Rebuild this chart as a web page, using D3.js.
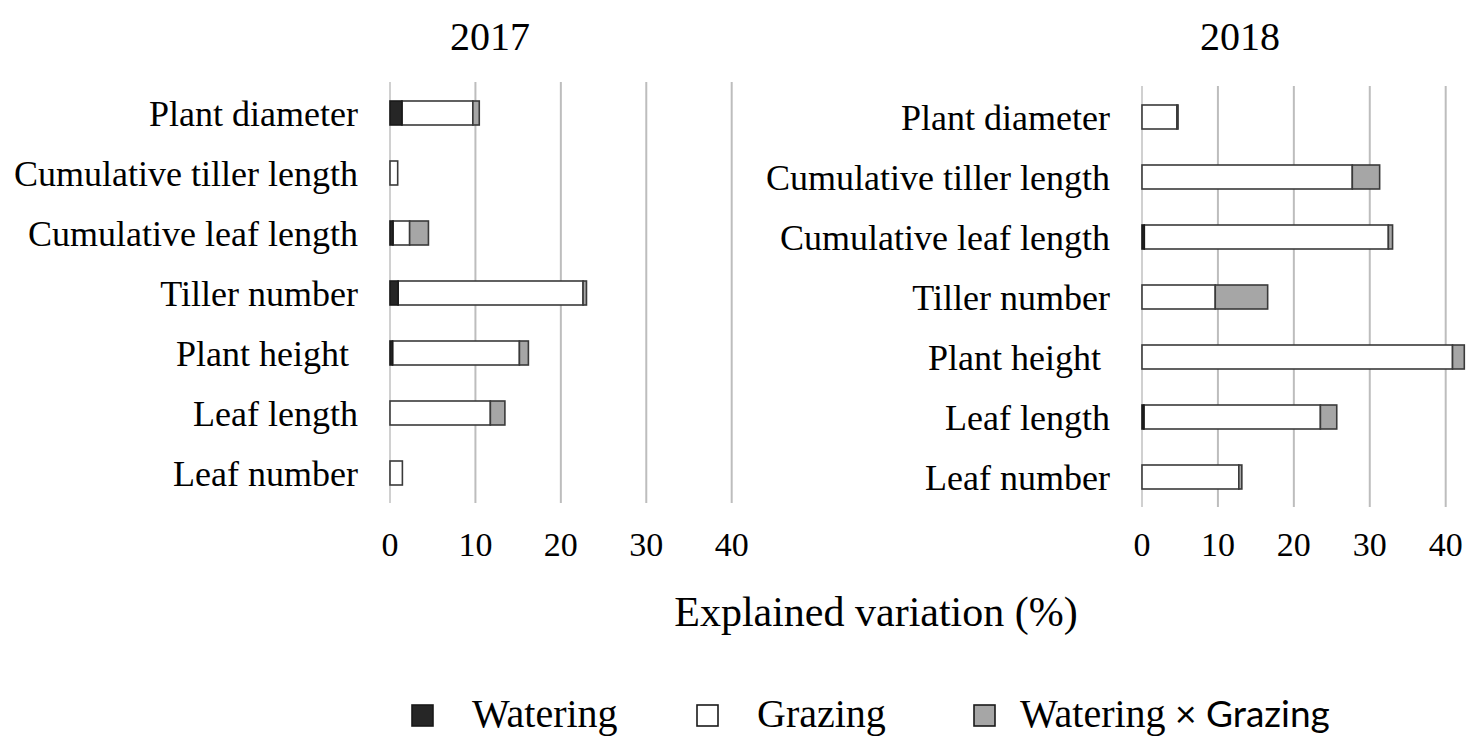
<!DOCTYPE html>
<html>
<head>
<meta charset="utf-8">
<script src="https://cdn.jsdelivr.net/npm/d3@7"></script>
<style>
  html, body { margin: 0; padding: 0; background: #fff; }
  svg { display: block; }
  text { font-family: "Liberation Serif", "Times New Roman", serif; fill: #000; }
</style>
</head>
<body>
<svg id="chart" width="1466" height="737"></svg>
<script>
// Trait names, listed top to bottom
const traits = [
  "Plant diameter",
  "Cumulative tiller length",
  "Cumulative leaf length",
  "Tiller number",
  "Plant height ",
  "Leaf length",
  "Leaf number"
];

const years = ["2017", "2018"];
const seriesNames = ["Watering", "Grazing", "Watering × Grazing"];
const tickValues = [0, 10, 20, 30, 40];

// Explained variation (%) per effect, 2017
const watering2017    = [1.4, 0,   0.35, 0.95, 0.3,  0,     0];
const grazing2017     = [8.3, 0.9, 1.95, 21.65, 14.85, 11.75, 1.45];
const interaction2017 = [0.75, 0,  2.2,  0.4,  1.05, 1.7,   0];

// Explained variation (%) per effect, 2018
const watering2018    = [0,    0,    0.3,   0,    0,    0.25,  0];
const grazing2018     = [4.6,  27.7, 32.15, 9.65, 40.9, 23.25, 12.75];
const interaction2018 = [0.15, 3.6,  0.55,  6.9,  1.55, 2.15,  0.4];

const fills = ["#262626", "#ffffff", "#a6a6a6"];
const strokes = ["#1a1a1a", "#3a3a3a", "#3a3a3a"];

const svg = d3.select("#chart");

const panels = [
  { year: years[0], series: [watering2017, grazing2017, interaction2017],
    x0: 390, x1: 731.7, y0: 83, y1: 503, labelX: 358, titleX: 490 },
  { year: years[1], series: [watering2018, grazing2018, interaction2018],
    x0: 1142, x1: 1445.7, y0: 87, y1: 507, labelX: 1110, titleX: 1240 }
];

panels.forEach(p => {
  const g = svg.append("g");
  const x = d3.scaleLinear().domain([0, 40]).range([p.x0, p.x1]);
  const y = d3.scaleBand().domain(traits).range([p.y0, p.y1]).paddingInner(0.6).paddingOuter(0.3);

  // vertical gridlines
  g.selectAll("line.grid").data(tickValues).join("line")
    .attr("class", "grid")
    .attr("x1", d => x(d)).attr("x2", d => x(d))
    .attr("y1", p.y0 - 1).attr("y2", p.y1)
    .attr("stroke", d => d === 0 ? "#d0d0d0" : "#bdbdbd")
    .attr("stroke-width", 2);

  // stacked bars
  const rows = traits.map((t, i) => {
    let acc = 0;
    return p.series.map((s, k) => {
      const seg = { trait: t, k, start: acc, end: acc + s[i], v: s[i] };
      acc += s[i];
      return seg;
    });
  }).flat().filter(d => d.v > 0);

  // draw grazing first, then other segments on top
  const order = [1, 0, 2];
  order.forEach(k => {
    g.selectAll(null).data(rows.filter(d => d.k === k)).join("rect")
      .attr("x", d => x(d.start))
      .attr("y", d => y(d.trait))
      .attr("width", d => x(d.end) - x(d.start))
      .attr("height", y.bandwidth())
      .attr("fill", fills[k])
      .attr("stroke", strokes[k])
      .attr("stroke-width", 1.6);
  });

  // category labels
  g.selectAll("text.cat").data(traits).join("text")
    .attr("class", "cat")
    .attr("x", p.labelX)
    .attr("y", d => y(d) + y.bandwidth() / 2)
    .attr("dy", "0.35em")
    .attr("text-anchor", "end")
    .style("white-space", "pre")
    .attr("font-size", 36)
    .text(d => d);

  // tick labels
  g.selectAll("text.tick").data(tickValues).join("text")
    .attr("class", "tick")
    .attr("x", d => x(d))
    .attr("y", 556)
    .attr("text-anchor", "middle")
    .attr("font-size", 34)
    .text(d => d3.format("d")(d));

  // panel title
  g.append("text")
    .attr("x", p.titleX).attr("y", 50)
    .attr("text-anchor", "middle")
    .attr("font-size", 40)
    .text(p.year);
});

// axis title
svg.append("text")
  .attr("x", 876).attr("y", 626)
  .attr("text-anchor", "middle")
  .attr("font-size", 42)
  .text("Explained variation (%)");

// legend
const legendItems = [
  { x: 412, tx: 472 },
  { x: 697, tx: 757 },
  { x: 974, tx: 1020 }
];
legendItems.forEach((it, k) => {
  svg.append("rect")
    .attr("x", it.x).attr("y", 705)
    .attr("width", 21).attr("height", 21)
    .attr("fill", fills[k])
    .attr("stroke", "#1a1a1a")
    .attr("stroke-width", 1.6);
  const t = svg.append("text")
    .attr("x", it.tx).attr("y", 727)
    .attr("font-size", 40);
  if (k < 2) {
    t.text(seriesNames[k]);
  } else {
    const parts = seriesNames[k].split(" × ");
    t.append("tspan").text(parts[0]);
    t.append("tspan")
      .style("font-family", "Lato, 'Open Sans', sans-serif")
      .attr("font-size", 37)
      .text(" × " + parts[1]);
  }
});
</script>
</body>
</html>
